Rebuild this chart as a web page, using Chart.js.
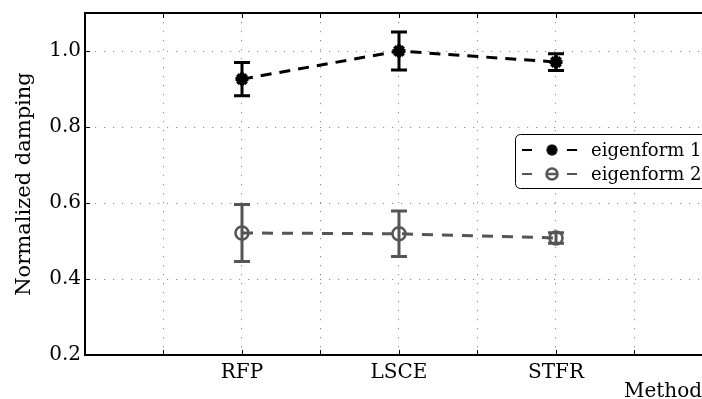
<!DOCTYPE html>
<html>
<head>
<meta charset="utf-8">
<script src="https://cdn.jsdelivr.net/npm/chart.js@4"></script>
<style>
  html, body { margin: 0; padding: 0; background: #fff; }
  #wrap { width: 702px; height: 399px; }
</style>
</head>
<body>
<div id="wrap"><canvas id="dampingChart" width="702" height="399"></canvas></div>
<script>
const methods = ['RFP', 'LSCE', 'STFR'];
const methodPos = [2, 4, 6];
const eigen1 = [0.926, 1.000, 0.971];
const eigen1Err = [0.044, 0.050, 0.022];
const eigen2 = [0.521, 0.519, 0.508];
const eigen2Err = [0.075, 0.060, 0.014];
const yTicks = [0.2, 0.4, 0.6, 0.8, 1.0];

const FONT = '"DejaVu Serif", "Liberation Serif", serif';
const GRAY = '#555555';

function points(vals) {
    return vals.map((v, i) => ({ x: methodPos[i], y: v }));
}

// error bars, drawn through the scales
const errorBars = {
    id: 'errorBars',
    beforeDatasetsDraw(chart) {
        const { ctx, scales } = chart;
        const errs = [eigen1Err, eigen2Err];
        chart.data.datasets.forEach((ds, d) => {
            ctx.save();
            ctx.strokeStyle = ds.borderColor;
            ctx.lineWidth = 3;
            ds.data.forEach((p, i) => {
                const x = scales.x.getPixelForValue(p.x);
                const yTop = scales.y.getPixelForValue(p.y + errs[d][i]);
                const yBot = scales.y.getPixelForValue(p.y - errs[d][i]);
                ctx.beginPath();
                ctx.moveTo(x, yTop); ctx.lineTo(x, yBot);
                ctx.moveTo(x - 8, yTop); ctx.lineTo(x + 8, yTop);
                ctx.moveTo(x - 8, yBot); ctx.lineTo(x + 8, yBot);
                ctx.stroke();
            });
            ctx.restore();
        });
    }
};

// top spine and inward tick marks
const frame = {
    id: 'frame',
    afterDraw(chart) {
        const { ctx, chartArea, scales } = chart;
        ctx.save();
        ctx.strokeStyle = '#000';
        ctx.lineWidth = 2;
        ctx.beginPath();
        ctx.moveTo(chartArea.left - 1, chartArea.top);
        ctx.lineTo(chartArea.right, chartArea.top);
        ctx.stroke();
        ctx.lineWidth = 1;
        ctx.beginPath();
        scales.x.ticks.forEach(t => {
            const x = Math.round(scales.x.getPixelForValue(t.value)) + 0.5;
            ctx.moveTo(x, chartArea.top); ctx.lineTo(x, chartArea.top + 5);
            ctx.moveTo(x, chartArea.bottom); ctx.lineTo(x, chartArea.bottom - 5);
        });
        scales.y.ticks.forEach(t => {
            const y = Math.round(scales.y.getPixelForValue(t.value)) + 0.5;
            ctx.moveTo(chartArea.left, y); ctx.lineTo(chartArea.left + 5, y);
        });
        ctx.stroke();
        ctx.restore();
    }
};

function drawStar(ctx, x, y, r) {
    ctx.beginPath();
    for (let k = 0; k < 4; k++) {
        const a = k * Math.PI / 4;
        ctx.moveTo(x - r * Math.cos(a), y - r * Math.sin(a));
        ctx.lineTo(x + r * Math.cos(a), y + r * Math.sin(a));
    }
    ctx.stroke();
}

// legend inside the plot
const innerLegend = {
    id: 'innerLegend',
    afterDraw(chart) {
        const { ctx } = chart;
        const bx = 515, by = 134, bw = 200, bh = 54, r = 5;
        ctx.save();
        ctx.fillStyle = '#fff';
        ctx.strokeStyle = '#000';
        ctx.lineWidth = 1;
        ctx.beginPath();
        ctx.roundRect(bx + 0.5, by + 0.5, bw, bh, r);
        ctx.fill();
        ctx.stroke();
        chart.data.datasets.forEach((ds, i) => {
            const y = by + 16 + i * 24;
            ctx.strokeStyle = ds.borderColor;
            ctx.lineWidth = 2;
            ctx.beginPath();
            ctx.moveTo(522, y); ctx.lineTo(532, y);
            ctx.moveTo(567, y); ctx.lineTo(577, y);
            ctx.stroke();
            if (i === 0) {
                ctx.lineWidth = 3.5;
                drawStar(ctx, 552, y, 5.5);
                ctx.fillStyle = ds.borderColor;
                ctx.beginPath(); ctx.arc(552, y, 3.5, 0, Math.PI * 2); ctx.fill();
            } else {
                ctx.lineWidth = 2.5;
                ctx.beginPath(); ctx.arc(552, y, 5.5, 0, Math.PI * 2); ctx.stroke();
                ctx.beginPath(); ctx.moveTo(546, y); ctx.lineTo(558, y); ctx.stroke();
            }
            ctx.fillStyle = '#000';
            ctx.font = '18px ' + FONT;
            ctx.textBaseline = 'middle';
            ctx.fillText(ds.label, 591, y + 1);
        });
        ctx.restore();
    }
};

const ctx = document.getElementById('dampingChart').getContext('2d');
const dampingChart = new Chart(ctx, {
    type: 'line',
    data: {
        datasets: [{
            label: 'eigenform 1',
            data: points(eigen1),
            borderColor: '#000',
            backgroundColor: '#000',
            borderWidth: 3,
            borderDash: [11, 8],
            pointStyle: 'star',
            pointRadius: 6.5,
            pointBorderWidth: 4,
            pointHoverRadius: 6.5
        }, {
            label: 'eigenform 2',
            data: points(eigen2),
            borderColor: GRAY,
            backgroundColor: 'rgba(0,0,0,0)',
            borderWidth: 3,
            borderDash: [11, 9],
            pointStyle: 'circle',
            pointRadius: 6.5,
            pointBorderWidth: 2.5,
            pointHoverRadius: 6.5
        }]
    },
    options: {
        responsive: false,
        animation: false,
        layout: { autoPadding: false, padding: { top: 13, right: 0, left: 0, bottom: 0 } },
        plugins: {
            legend: { display: false },
            tooltip: { enabled: false }
        },
        scales: {
            x: {
                type: 'linear',
                min: 0,
                max: 7.86,
                ticks: {
                    stepSize: 1,
                    includeBounds: false,
                    autoSkip: false,
                    maxRotation: 0,
                    padding: 6,
                    color: '#000',
                    font: { family: FONT, size: 20 },
                    callback: v => {
                        const i = methodPos.indexOf(v);
                        return i >= 0 ? methods[i] : '';
                    }
                },
                grid: { color: '#8a8a8a', lineWidth: 1, drawTicks: false },
                border: { display: true, color: '#000', width: 2, dash: [1.2, 7.8] },
                title: {
                    display: true,
                    text: 'Method',
                    align: 'end',
                    color: '#000',
                    font: { family: FONT, size: 20 },
                    padding: { top: 0, bottom: -5 }
                },
                afterFit: s => { s.height = 44; s.paddingLeft = 0; s.paddingRight = 0; }
            },
            y: {
                min: 0.2,
                max: 1.1,
                afterBuildTicks: s => { s.ticks = yTicks.map(v => ({ value: v })); },
                ticks: {
                    padding: 4,
                    color: '#000',
                    font: { family: FONT, size: 20 },
                    callback: v => v.toFixed(1)
                },
                grid: { color: '#8a8a8a', lineWidth: 1, drawTicks: false },
                border: { display: true, color: '#000', width: 2, dash: [1.2, 7.8] },
                title: {
                    display: true,
                    text: 'Normalized damping',
                    color: '#000',
                    font: { family: FONT, size: 21 },
                    padding: { top: 12, bottom: 0 }
                },
                afterFit: s => { s.width = 85; s.paddingTop = 0; s.paddingBottom = 0; }
            }
        }
    },
    plugins: [errorBars, frame, innerLegend]
});
</script>
</body>
</html>
